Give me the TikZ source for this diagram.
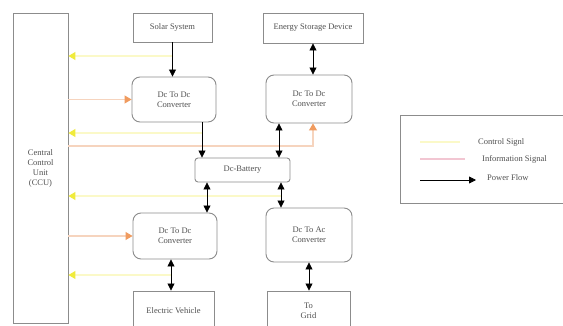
\documentclass[tikz,border=0pt]{standalone}
\usepackage{fontspec}
\setmainfont{Liberation Serif}
\usetikzlibrary{arrows.meta}
\definecolor{boxgray}{RGB}{140,140,140}
\definecolor{txtgray}{RGB}{80,80,80}
\definecolor{ctrlline}{RGB}{251,249,200}
\definecolor{ctrltip}{RGB}{240,235,60}
\definecolor{infoline}{RGB}{246,212,190}
\definecolor{infotip}{RGB}{240,155,95}
\definecolor{legpink}{RGB}{242,198,210}
\tikzset{
  blk/.style={draw=boxgray, line width=0.9pt, text=txtgray, font=\fontsize{8.5}{10}\selectfont, align=center, inner sep=1pt},
  conv/.style={blk, rounded corners=8pt},
  pf/.style={black, line width=0.8pt, -{Triangle[length=7pt,width=7pt]}},
  pfd/.style={black, line width=0.8pt, {Triangle[length=7pt,width=7pt]}-{Triangle[length=7pt,width=7pt]}},
  ctrl/.style={draw=ctrlline, line width=1.1pt, -{Triangle[length=7pt,width=8pt,color=ctrltip]}},
  info/.style={draw=infoline, line width=1.1pt, -{Triangle[length=7pt,width=8pt,color=infotip]}},
  leg/.style={text=txtgray, font=\fontsize{8.5}{10}\selectfont, anchor=west, inner sep=0pt}
}
\begin{document}
\begin{tikzpicture}[x=1pt,y=-1pt]
\clip (0,0) rectangle (563,326);
\fill[white] (0,0) rectangle (563,326);

% blocks
\node[blk, minimum width=55pt, minimum height=310pt] (ccu) at (40.5,168) {Central\\Control\\Unit\\(CCU)};
\node[blk, minimum width=79pt, minimum height=29pt] (solar) at (172.5,27.5) {Solar System};
\node[blk, minimum width=100pt, minimum height=30pt] (esd) at (313,28) {Energy Storage Device};
\node[conv, minimum width=84pt, minimum height=45pt] (dc1) at (174,99.5) {Dc To Dc\\Converter};
\node[conv, minimum width=86pt, minimum height=48pt] (dc2) at (309,99) {Dc To Dc\\Converter};
\node[blk, rounded corners=3pt, minimum width=95pt, minimum height=24pt] (bat) at (242.5,170) {Dc-Battery};
\node[conv, minimum width=84pt, minimum height=46pt] (dc3) at (175,236) {Dc To Dc\\Converter};
\node[conv, minimum width=86pt, minimum height=54pt] (dcac) at (309,235) {Dc To Ac\\Converter};
\node[blk, minimum width=81pt, minimum height=40pt] (ev) at (173.5,311) {Electric Vehicle};
\node[blk, minimum width=83pt, minimum height=40pt] (grid) at (308.5,311) {To\\Grid};

% helper coordinates
\coordinate (p1) at (202,0);
\coordinate (p2) at (279,0);
\coordinate (p3) at (207,0);
\coordinate (p4) at (281,0);
\coordinate (p5) at (171,0);
\coordinate (p6) at (313,0);
\coordinate (y1) at (0,56);
\coordinate (y2) at (0,133);
\coordinate (y3) at (0,146);
\coordinate (y4) at (0,196);
\coordinate (y5) at (0,275);

% control signals
\draw[ctrl] (solar.south |- y1) -- (ccu.east |- y1);
\draw[ctrl] (p1 |- y2) -- (ccu.east |- y2);
\draw[ctrl] (p4 |- y4) -- (ccu.east |- y4);
\draw[ctrl] (p5 |- y5) -- (ccu.east |- y5);

% information signals
\draw[info] (ccu.east |- dc1.west) -- (dc1.west);
\draw[info] (ccu.east |- y3) -- (p6 |- y3) -- (p6 |- dc2.south);
\draw[info] (ccu.east |- dc3.west) -- (dc3.west);

% power flow
\draw[pf] (solar.south) -- (solar.south |- dc1.north);
\draw[pfd] (esd.south) -- (esd.south |- dc2.north);
\draw[pf] (p1 |- dc1.south) -- (p1 |- bat.north);
\draw[pfd] (p2 |- dc2.south) -- (p2 |- bat.north);
\draw[pfd] (p3 |- bat.south) -- (p3 |- dc3.north);
\draw[pfd] (p4 |- bat.south) -- (p4 |- dcac.north);
\draw[pfd] (p5 |- dc3.south) -- (p5 |- ev.north);
\draw[pfd] (dcac.south) -- (dcac.south |- grid.north);

% legend
\node[draw=boxgray, line width=0.9pt, minimum width=166pt, minimum height=88pt, inner sep=0pt] (legend) at (483,159) {};
\node[leg] (lc) at (478,142) {Control Signl};
\node[leg] (li) at (482,159) {Information Signal};
\node[leg] (lp) at (487,178) {Power Flow};
\coordinate (lc0) at (420,142);
\coordinate (li0) at (420,159);
\coordinate (lp0) at (420,180);
\coordinate (lp1) at (476,180);
\draw[draw=ctrlline, line width=1.1pt] (lc0) -- ++(40,0);
\draw[draw=legpink, line width=1.1pt] (li0) -- ++(45,0);
\draw[pf] (lp0) -- (lp1);
\end{tikzpicture}
\end{document}
